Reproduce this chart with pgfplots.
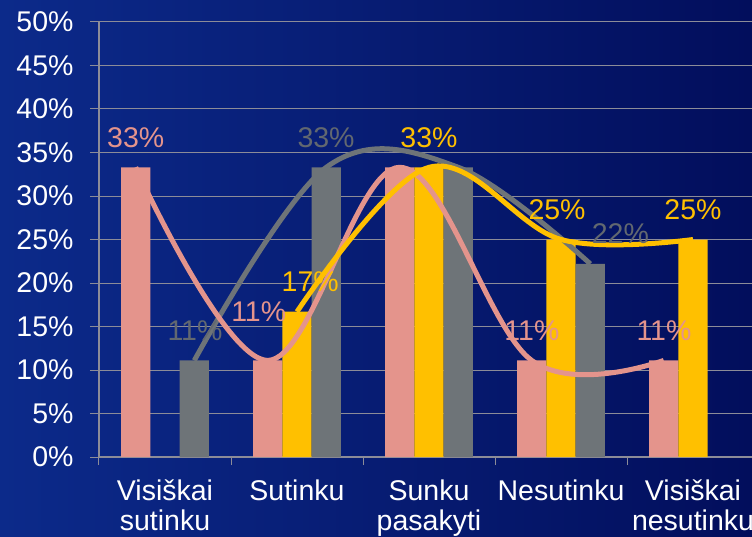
\documentclass[border=0pt]{standalone}
\usepackage{fontspec}
\setmainfont{Liberation Sans}
\usepackage{pgfplots}
\pgfplotsset{compat=1.18}
\definecolor{bgl}{RGB}{12,42,138}
\definecolor{bgr}{RGB}{2,14,92}
\definecolor{pinkb}{RGB}{228,148,140}
\definecolor{gold}{RGB}{255,192,0}
\definecolor{grayb}{RGB}{110,116,120}
\definecolor{gridc}{RGB}{140,140,152}
\definecolor{graylbl}{RGB}{98,104,112}

\begin{document}
\begin{tikzpicture}[x=1pt,y=1pt]
\useasboundingbox (0,0) rectangle (752,536);
\shade[left color=bgl,right color=bgr] (0,0) rectangle (752,536);
\begin{axis}[
  at={(99pt,79pt)}, anchor=south west,
  scale only axis, width=653pt, height=435pt,
  xmin=-0.5, xmax=4.447, ymin=0, ymax=50,
  axis lines*=left,
  axis line style={gridc, line width=1.2pt},
  ytick={0,5,...,50},
  yticklabels={0\%,5\%,10\%,15\%,20\%,25\%,30\%,35\%,40\%,45\%,50\%},
  ymajorgrids, grid style={gridc, line width=1pt},
  xtick={0,...,4},
  xticklabels={{Visiškai\\sutinku},Sutinku,{Sunku\\pasakyti},Nesutinku,{Visiškai\\nesutinku}},
  major x tick style={draw=none},
  minor xtick={-0.5,0.5,1.5,2.5,3.5},
  tick align=outside, major tick length=9pt, minor tick length=8pt,
  tick style={gridc, line width=1pt},
  yticklabel style={font=\fontsize{28.5}{30}\selectfont, text=white, xshift=-13pt},
  xticklabel style={font=\fontsize{28.5}{30}\selectfont, text=white, align=center, yshift=-10pt},
]
% bars
\addplot[ybar, bar width=0.222, bar shift=-0.222, fill=pinkb, draw=none]
  coordinates {(0,33.3) (1,11.1) (2,33.3) (3,11.1) (4,11.1)};
\addplot[ybar, bar width=0.222, bar shift=0, fill=gold, draw=none]
  coordinates {(1,16.7) (2,33.3) (3,25) (4,25)};
\addplot[ybar, bar width=0.222, bar shift=0.222, fill=grayb, draw=none]
  coordinates {(0,11.1) (1,33.3) (2,33.3) (3,22.2)};
% smoothed lines
\addplot[smooth, tension=0.6, grayb, line width=5pt]
  coordinates {(0.222,11.1) (1.222,33.3) (2.222,33.3) (3.222,22.2)};
\addplot[smooth, tension=0.6, pinkb, line width=5pt]
  coordinates {(-0.222,33.3) (0.778,11.1) (1.778,33.3) (2.778,11.1) (3.778,11.1)};
\addplot[smooth, tension=0.6, gold, line width=5pt]
  coordinates {(1,16.7) (2,33.3) (3,25) (4,25)};
% value labels
\addplot[draw=none, mark=none, nodes near coords, point meta=explicit symbolic,
  every node near coord/.append style={text=pinkb, anchor=center, yshift=30pt, font=\fontsize{28.5}{30}\selectfont}]
  coordinates {(-0.222,33.3)[33\%] (0.71,13.3)[11\%] (2.78,11.1)[11\%] (3.78,11.1)[11\%]};
\addplot[draw=none, mark=none, nodes near coords, point meta=explicit symbolic,
  every node near coord/.append style={text=gold, anchor=center, yshift=30pt, font=\fontsize{28.5}{30}\selectfont}]
  coordinates {(1.1,16.7)[17\%] (2,33.3)[33\%] (2.97,25)[25\%] (4,25)[25\%]};
\addplot[draw=none, mark=none, nodes near coords, point meta=explicit symbolic,
  every node near coord/.append style={text=graylbl, anchor=center, yshift=30pt, font=\fontsize{28.5}{30}\selectfont}]
  coordinates {(0.227,11.1)[11\%] (1.22,33.3)[33\%] (3.45,22.2)[22\%]};
\end{axis}
\end{tikzpicture}
\end{document}
